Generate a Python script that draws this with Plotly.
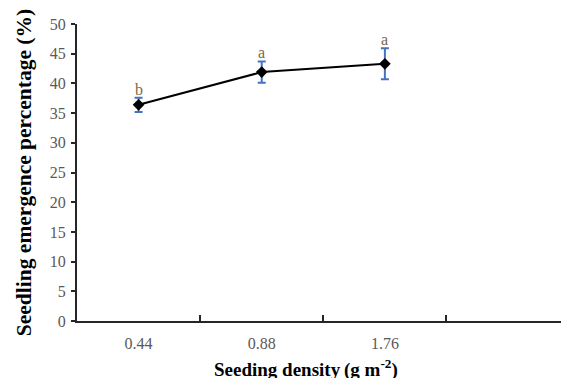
import plotly.graph_objects as go

densities = ["0.44", "0.88", "1.76"]
emergence = [36.4, 41.9, 43.3]
errors = [1.2, 1.8, 2.6]
letters = ["b", "a", "a"]
y_ticks = [0, 5, 10, 15, 20, 25, 30, 35, 40, 45, 50]

SERIF = "Liberation Serif, Times New Roman, Times, serif"

fig = go.Figure()
fig.add_trace(go.Scatter(
    x=densities, y=emergence,
    mode="lines+markers",
    line=dict(color="black", width=2),
    marker=dict(symbol="diamond", size=9, color="black"),
    error_y=dict(type="data", array=errors, visible=True, color="#4472C4", thickness=2, width=4),
    showlegend=False,
))

for i, (m, e, l) in enumerate(zip(emergence, errors, letters)):
    fig.add_annotation(x=i, y=m + e, text=l, showarrow=False, yanchor="bottom", yshift=-2,
                       font=dict(family=SERIF, size=16, color="#7B6748"))

fig.add_annotation(xref="paper", yref="paper", x=0.473, y=-0.112, xanchor="center", yanchor="top",
                   text="<b>Seeding density\u2009(g m<sup>-2</sup>)</b>", showarrow=False,
                   font=dict(family=SERIF, size=19, color="black"))

fig.update_layout(
    width=561, height=378,
    margin=dict(l=77, r=0, t=24, b=57),
    plot_bgcolor="white", paper_bgcolor="white",
    font=dict(family=SERIF, size=14, color="#595959"),
    xaxis=dict(
        type="category", range=[-0.5, 3.43], automargin=False,
        showline=True, linecolor="#262626", linewidth=2,
        ticks="inside", tickson="boundaries", ticklen=6, tickwidth=2, tickcolor="#262626",
        showgrid=False, zeroline=False, ticklabelstandoff=7,
        tickfont=dict(family=SERIF, size=16, color="#595959"),
    ),
    yaxis=dict(
        range=[0, 50], tickvals=y_ticks, automargin=False,
        showline=True, linecolor="#262626", linewidth=2,
        ticks="outside", ticklen=4, tickwidth=2, tickcolor="#262626",
        showgrid=False, zeroline=False, ticklabelstandoff=2,
        tickfont=dict(family=SERIF, size=16, color="#595959"),
        title=dict(text="<b>Seedling emergence percentage (%)</b>", standoff=12,
                   font=dict(family=SERIF, size=21.5, color="black")),
    ),
)
fig.write_html("out.html", config={"displayModeBar": False},
               post_script="document.body.style.margin='0';document.body.style.overflow='hidden';")
